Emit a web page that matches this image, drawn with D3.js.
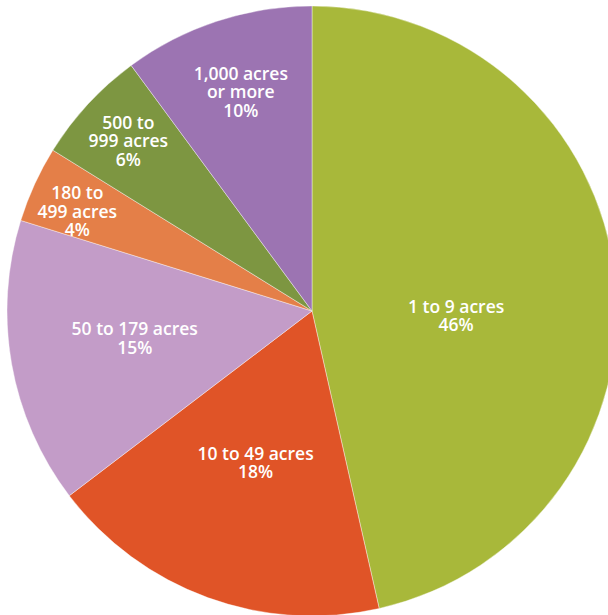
<!DOCTYPE html>
<html>
<head>
<meta charset="utf-8">
<script src="https://cdn.jsdelivr.net/npm/d3@7"></script>
<style>
  body { margin: 0; background: #fff; }
  svg { display: block; }
  .label { font-family: "Open Sans", sans-serif; font-weight: 600; font-size: 17.5px; fill: #fff; }
</style>
</head>
<body>
<svg id="pie"></svg>
<script>
/*
    DATA
    Farm size categories and share of farms (%)
*/
var categories = ["1 to 9 acres", "10 to 49 acres", "50 to 179 acres", "180 to\n499 acres", "500 to\n999 acres", "1,000 acres\nor more"];
var shares = [46, 18, 15, 4, 6, 10];
var colors = ["#a8b83a", "#e05427", "#c39cc8", "#e47f48", "#7d9641", "#9c74b2"];

/*
    LAYOUT
*/
var width = 608;
var height = 615;
var cx = 312, cy = 311;
var radius = 305;

// how far out from the centre each label sits, plus a small hand nudge
var labelRadius = [145, 165, 180, 258, 250, 225];
var labelNudge = [[0, 21], [0, -3], [0, -4], [0, 8], [0, 0], [-1, -5]];
var lineHeight = 18.5;

var rows = categories.map(function(c, i) {
  return {cat: c, value: shares[i], color: colors[i], idx: i};
});

var svg = d3.select("#pie")
    .attr("width", width)
    .attr("height", height);

var g = svg.append("g")
    .attr("transform", "translate(" + cx + "," + cy + ")");

var pie = d3.pie()
    .sort(null)
    .value(function(d) { return d.value; });

var arc = d3.arc()
    .innerRadius(0)
    .outerRadius(radius);

var arcs = pie(rows);

g.selectAll(".slice")
    .data(arcs)
    .enter().append("path")
    .attr("class", "slice")
    .attr("d", arc)
    .attr("fill", function(d) { return d.data.color; })
    .attr("stroke", "#fff")
    .attr("stroke-width", 0.4);

var labels = g.selectAll(".label")
    .data(arcs)
    .enter().append("text")
    .attr("class", "label")
    .attr("text-anchor", "middle")
    .attr("transform", function(d, i) {
      var r = labelRadius[i];
      var c = d3.arc().innerRadius(r).outerRadius(r).centroid(d);
      return "translate(" + (c[0] + labelNudge[i][0]) + "," + (c[1] + labelNudge[i][1]) + ")";
    });

labels.each(function(d) {
  var lines = d.data.cat.split("\n");
  lines.push(d3.format(".0f")(d.data.value) + "%");
  var t = d3.select(this);
  var offset = -(lines.length - 1) * lineHeight / 2;
  lines.forEach(function(line, k) {
    t.append("tspan")
      .attr("x", 0)
      .attr("y", offset + k * lineHeight)
      .attr("dy", "0.35em")
      .text(line);
  });
});
</script>
</body>
</html>
